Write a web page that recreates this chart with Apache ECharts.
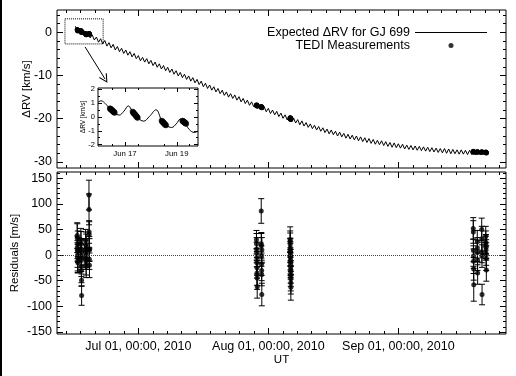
<!DOCTYPE html>
<html>
<head>
<meta charset="utf-8">
<script src="https://cdn.jsdelivr.net/npm/echarts@6.0.0/dist/echarts.min.js"></script>
<style>
  html, body { margin: 0; padding: 0; background: #fff; }
  #main { width: 516px; height: 376px; }
</style>
</head>
<body>
<div id="main"></div>
<script>
// days are counted from Jul 01 2010, 00:00 UT
var xTickDays = [0, 31, 62];
var xTickLabels = ['Jul 01, 00:00, 2010', 'Aug 01, 00:00, 2010', 'Sep 01, 00:00, 2010'];
var rvTicks = [0, -10, -20, -30];
var residTicks = [150, 100, 50, 0, -50, -100, -150];
var insetTickDays = [-14, -12];
var insetTickLabels = ['Jun 17', 'Jun 19'];
var insetRvTicks = [2, 1, 0, -1, -2];

// expected dRV (km/s), one value every half day starting at modelStart
var modelStart = -15;
var modelStep = 0.5;
var modelRv = [
  1.4, 0.1, 0.9, -0.4, 0.4, -0.9, -0.1, -1.3, -0.6, -1.8, -1.1, -2.3, -1.5, -2.7, -1.9, -3.2,
  -2.4, -3.6, -2.8, -4.1, -3.3, -4.5, -3.7, -4.9, -4.1, -5.3, -4.5, -5.7, -4.9, -6.1,
  -5.4, -6.6, -5.8, -6.9, -6.1, -7.3, -6.5, -7.7, -6.9, -8.1, -7.3, -8.5, -7.7, -8.9,
  -8.1, -9.3, -8.5, -9.7, -8.9, -10.1, -9.3, -10.5, -9.7, -10.9, -10.1, -11.3, -10.5, -11.7,
  -10.9, -12.1, -11.3, -12.6, -11.8, -13.0, -12.2, -13.4, -12.6, -13.8, -13.0, -14.2,
  -13.4, -14.6, -13.8, -15.0, -14.2, -15.3, -14.5, -15.7, -14.9, -16.1, -15.3, -16.5,
  -15.7, -16.9, -16.1, -17.2, -16.4, -17.6, -16.8, -18.0, -17.2, -18.4, -17.6, -18.8,
  -18.0, -19.1, -18.3, -19.5, -18.7, -19.9, -19.1, -20.3, -19.5, -20.6, -19.8, -21.0,
  -20.2, -21.4, -20.5, -21.7, -20.9, -22.0, -21.2, -22.3, -21.5, -22.6, -21.8, -22.9,
  -22.1, -23.2, -22.4, -23.5, -22.6, -23.7, -22.9, -24.0, -23.1, -24.2, -23.4, -24.5,
  -23.6, -24.7, -23.8, -24.9, -24.0, -25.1, -24.2, -25.3, -24.4, -25.5, -24.6, -25.7,
  -24.8, -25.9, -25.0, -26.0, -25.1, -26.2, -25.3, -26.4, -25.5, -26.6, -25.6, -26.7,
  -25.8, -26.8, -25.9, -27.0, -26.1, -27.1, -26.2, -27.2, -26.3, -27.3, -26.4, -27.4,
  -26.5, -27.5, -26.6, -27.6, -26.7, -27.7, -26.8, -27.8, -26.9, -27.9, -26.9, -28.0,
  -27.0, -28.1, -27.1, -28.1, -27.2, -28.2, -27.2, -28.2, -27.3, -28.3, -27.3, -28.3,
  -27.4, -28.4, -27.4, -28.4, -27.4, -28.4, -27.5
];

// zoomed curve for the inset (day, km/s)
var insetDay = [-15.04, -14.92, -14.75, -14.58, -14.40, -14.22, -14.04, -13.87, -13.70, -13.50, -13.28,
  -13.05, -12.80, -12.58, -12.40, -12.20, -12.02, -11.86, -11.70, -11.52, -11.32, -11.18];
var insetRv = [1.07, 1.17, 0.95, 0.62, 0.30, 0.14, 0.42, 0.80, 0.38, -0.06, -0.30,
  0.05, 0.52, -0.25, -0.60, -0.76, -0.50, -0.16, -0.40, -0.90, -1.12, -1.02];

// TEDI measurements
var obsDay = [
  -14.58, -14.56, -14.54, -14.52, -14.50, -14.48, -14.46, -14.44, -14.42, -14.40,
  -13.70, -13.68, -13.66, -13.64, -13.61, -13.59, -13.57, -13.55, -13.53, -13.51,
  -12.58, -12.56, -12.54, -12.52, -12.50, -12.48, -12.46, -12.44, -12.42,
  -11.78, -11.76, -11.74, -11.72, -11.70, -11.68, -11.66, -11.64,
  28.16, 28.18, 28.20, 28.22, 28.24, 28.26, 28.28, 28.30, 28.32, 28.34,
  29.30, 29.32, 29.34, 29.36, 29.38, 29.40, 29.42, 29.44, 29.46,
  36.20, 36.21, 36.22, 36.23, 36.24, 36.25, 36.26, 36.27, 36.28, 36.29, 36.30, 36.31, 36.32, 36.33, 36.34, 36.35, 36.36, 36.37,
  79.86, 79.88, 79.90, 79.92, 79.94, 79.96, 79.98,
  80.82, 80.84, 80.86, 80.88, 80.90,
  81.88, 81.90, 81.92, 81.94, 81.96,
  82.84, 82.86, 82.88, 82.90, 82.92, 82.94, 82.96, 82.98
];
var obsRv = [
  0.62, 0.59, 0.55, 0.52, 0.48, 0.45, 0.41, 0.38, 0.34, 0.30,
  0.38, 0.33, 0.28, 0.23, 0.18, 0.13, 0.08, 0.03, -0.02, -0.06,
  -0.28, -0.32, -0.36, -0.40, -0.44, -0.48, -0.52, -0.56, -0.60,
  -0.27, -0.30, -0.33, -0.36, -0.39, -0.42, -0.45, -0.48,
  -16.80, -16.83, -16.86, -16.89, -16.92, -16.95, -16.98, -17.01, -17.04, -17.07,
  -17.20, -17.23, -17.26, -17.29, -17.32, -17.35, -17.38, -17.41, -17.44,
  -19.80, -19.82, -19.84, -19.86, -19.88, -19.90, -19.92, -19.94, -19.96, -19.98, -20.00, -20.02, -20.04, -20.06, -20.08, -20.10, -20.12, -20.14,
  -27.55, -27.58, -27.61, -27.64, -27.67, -27.70, -27.73,
  -27.62, -27.65, -27.68, -27.71, -27.74,
  -27.66, -27.69, -27.72, -27.75, -27.78,
  -27.70, -27.73, -27.76, -27.79, -27.82, -27.85, -27.88, -27.91
];
var obsResid = [
  38, 33, 15, 8, 0, -5, -12, 22, -15, 10,
  30, 22, 12, -3, -10, -22, -30, -49, -79, 5,
  28, 20, 12, 5, -2, -8, -15, -22, 15,
  117, 89, 45, 40, 12, -8, -20, 10,
  30, 22, 12, 5, -5, -15, -25, -35, -45, -62,
  86, 22, 18, -2, -18, -30, -38, -77, 10,
  30, 27, 21, 14, 9, 6, 1, -4, -9, -13, -18, -24, -29, -33, -41, -46, -54, -63,
  52, 45, 9, -2, -12, -27, -58,
  26, 14, 5, -10, -35,
  50, 32, 5, -2, -77,
  36, 25, 20, 15, 10, 2, -6, -29
];
var obsErr = [
  25, 28, 22, 20, 24, 26, 22, 25, 20, 24,
  22, 24, 20, 25, 22, 20, 24, 12, 19, 26,
  22, 25, 20, 24, 22, 20, 24, 22, 26,
  29, 30, 22, 25, 24, 20, 24, 22,
  18, 20, 22, 20, 18, 22, 20, 24, 22, 22,
  24, 22, 24, 20, 22, 20, 22, 22, 24,
  25, 20, 22, 18, 24, 20, 22, 18, 20, 24, 22, 20, 18, 22, 20, 24, 22, 25,
  21, 22, 22, 20, 24, 22, 32,
  22, 20, 24, 20, 22,
  22, 24, 20, 22, 20,
  20, 22, 20, 22, 20, 22, 24, 22
];

var FONT = 'Liberation Sans, Arial, sans-serif';
var xRange = [-19.4, 87.67];
var rvRange = [-31.4, 5.15];
var residRange = [-154, 162];
var insetXRange = [-15.04, -11.18];
var insetYRange = [-2.1, 2.1];

function minorTicks(lo, hi, step, every) {
  var out = [];
  for (var k = Math.ceil(lo / step); k * step <= hi; k++) {
    if (k % every !== 0) out.push(+(k * step).toFixed(4));
  }
  return out;
}

// four axes per side pair: major + minor ticks, mirrored on the opposite edge
function boxAxes(dim, gridIndex, range, major, minor, lenMajor, lenMinor, primary) {
  var sides = dim === 'x' ? ['bottom', 'top'] : ['left', 'right'];
  var out = [];
  sides.forEach(function (side, s) {
    [[major, lenMajor], [minor, lenMinor]].forEach(function (t, k) {
      var ax = {
        type: 'value', gridIndex: gridIndex, position: side,
        min: range[0], max: range[1],
        axisLine: { show: false, onZero: false },
        splitLine: { show: false },
        axisTick: { show: true, inside: true, length: t[1], customValues: t[0],
          lineStyle: { color: '#000', width: 1 } },
        axisLabel: { show: false }
      };
      if (s === 0 && k === 0 && primary) Object.assign(ax, primary);
      out.push(ax);
    });
  });
  return out;
}

var modelData = modelRv.map(function (v, i) { return [modelStart + i * modelStep, v]; });
var insetData = insetDay.map(function (d, i) { return [d, insetRv[i]]; });
var obsData = obsDay.map(function (d, i) { return [d, obsRv[i]]; });
var residData = obsDay.map(function (d, i) { return [d, obsResid[i]]; });
var errData = obsDay.map(function (d, i) { return [d, obsResid[i] - obsErr[i], obsResid[i] + obsErr[i]]; });

var xMinorMain = minorTicks(xRange[0], xRange[1], 31 / 9, 9);
var labelStyle = { color: '#000', fontFamily: FONT, fontSize: 12.5 };

var xAxes = []
  .concat(boxAxes('x', 0, xRange, xTickDays, xMinorMain, 6, 3))
  .concat(boxAxes('x', 1, xRange, xTickDays, xMinorMain, 6, 3, {
    axisLabel: Object.assign({ show: true, customValues: xTickDays, margin: 6,
      formatter: function (v) { var i = xTickDays.indexOf(v); return i < 0 ? '' : xTickLabels[i]; } }, labelStyle),
    name: 'UT', nameLocation: 'middle', nameGap: 20, nameMoveOverlap: false,
    nameTextStyle: { color: '#000', fontFamily: FONT, fontSize: 11.5 }
  }))
  .concat(boxAxes('x', 2, insetXRange, insetTickDays, minorTicks(insetXRange[0], insetXRange[1], 0.5, 2), 4, 2, {
    axisLabel: { show: true, customValues: insetTickDays, margin: 4, color: '#000', fontFamily: FONT, fontSize: 7.8,
      formatter: function (v) { var i = insetTickDays.indexOf(v); return i < 0 ? '' : insetTickLabels[i]; } }
  }));

var yAxes = []
  .concat(boxAxes('y', 0, rvRange, rvTicks, minorTicks(rvRange[0], rvRange[1], 2, 5), 6, 3, {
    axisLabel: Object.assign({ show: true, customValues: rvTicks, margin: 5 }, labelStyle),
    name: 'ΔRV [km/s]', nameLocation: 'middle', nameGap: 24, nameMoveOverlap: false,
    nameTextStyle: { color: '#000', fontFamily: FONT, fontSize: 11.5 }
  }))
  .concat(boxAxes('y', 1, residRange, residTicks, minorTicks(residRange[0], residRange[1], 10, 5), 6, 3, {
    axisLabel: Object.assign({ show: true, customValues: residTicks, margin: 5 }, labelStyle),
    name: 'Residuals [m/s]', nameLocation: 'middle', nameGap: 36, nameMoveOverlap: false,
    nameTextStyle: { color: '#000', fontFamily: FONT, fontSize: 11.5 }
  }))
  .concat(boxAxes('y', 2, insetYRange, insetRvTicks, minorTicks(insetYRange[0], insetYRange[1], 0.5, 2), 4, 2, {
    axisLabel: { show: true, customValues: insetRvTicks, margin: 3, color: '#000', fontFamily: FONT, fontSize: 7.5 },
    name: 'ΔRV [km/s]', nameLocation: 'middle', nameGap: 11, nameMoveOverlap: false,
    nameTextStyle: { color: '#000', fontFamily: FONT, fontSize: 6.5 }
  }));

var gridBox = { show: true, borderColor: '#000', borderWidth: 1, backgroundColor: 'transparent', outerBoundsMode: 'none' };

var chart = echarts.init(document.getElementById('main'), null, { renderer: 'canvas' });
chart.setOption({
  animation: false,
  backgroundColor: '#fff',
  textStyle: { fontFamily: FONT },
  graphic: [{ type: 'rect', left: 0, top: 0, shape: { width: 2, height: 376 }, style: { fill: '#000' } }],
  grid: [
    Object.assign({ left: 57, top: 10, width: 449, height: 158 }, gridBox),
    Object.assign({ left: 57, top: 172, width: 449, height: 162 }, gridBox),
    Object.assign({ left: 98, top: 88, width: 100, height: 58 }, gridBox, { backgroundColor: '#fff' })
  ],
  legend: {
    orient: 'vertical', right: 29, top: 26, align: 'right', padding: 0,
    itemWidth: 72, itemHeight: 5, itemGap: 0, selectedMode: false,
    textStyle: { color: '#000', fontFamily: FONT, fontSize: 12.5, lineHeight: 12 },
    data: [
      { name: 'Expected ΔRV for GJ 699', icon: 'path://M0,0 L72,0 L72,1 L0,1 Z' },
      { name: 'TEDI Measurements', icon: 'circle' }
    ]
  },
  xAxis: xAxes,
  yAxis: yAxes,
  series: [
    {
      name: 'Expected ΔRV for GJ 699', type: 'line', xAxisIndex: 0, yAxisIndex: 0,
      data: modelData, symbol: 'none', silent: true,
      lineStyle: { color: '#000', width: 1 }, itemStyle: { color: '#000' },
      markArea: {
        silent: true,
        itemStyle: { color: 'rgba(0,0,0,0)', borderColor: '#000', borderWidth: 1, borderType: 'dotted' },
        data: [[{ coord: [-17.5, 3.1] }, { coord: [-8.4, -2.7] }]]
      },
      markLine: {
        silent: true,
        symbol: ['none', 'path://M5,0 L10,9 L9,9.7 L5,2.3 L1,9.7 L0,9 Z'],
        symbolSize: [9, 9],
        label: { show: false },
        lineStyle: { color: '#000', width: 1, type: 'solid' },
        data: [[{ coord: [-12.7, -3.4] }, { coord: [-7.95, -10.8] }]]
      }
    },
    {
      name: 'TEDI Measurements', type: 'scatter', xAxisIndex: 0, yAxisIndex: 0,
      data: obsData, symbol: 'circle', symbolSize: 5, silent: true,
      itemStyle: { color: '#000' }
    },
    {
      type: 'custom', xAxisIndex: 4, yAxisIndex: 4, data: errData, silent: true,
      encode: { x: 0, y: [1, 2] },
      renderItem: function (params, api) {
        var lo = api.coord([api.value(0), api.value(1)]);
        var hi = api.coord([api.value(0), api.value(2)]);
        var st = { stroke: '#000', lineWidth: 1 };
        return {
          type: 'group', children: [
            { type: 'line', shape: { x1: lo[0], y1: lo[1], x2: hi[0], y2: hi[1] }, style: st },
            { type: 'line', shape: { x1: lo[0] - 3, y1: lo[1], x2: lo[0] + 3, y2: lo[1] }, style: st },
            { type: 'line', shape: { x1: hi[0] - 3, y1: hi[1], x2: hi[0] + 3, y2: hi[1] }, style: st }
          ]
        };
      }
    },
    {
      type: 'scatter', xAxisIndex: 4, yAxisIndex: 4, data: residData,
      symbol: 'circle', symbolSize: 5, silent: true, itemStyle: { color: '#000' },
      markLine: {
        silent: true, symbol: 'none', label: { show: false },
        lineStyle: { color: '#444', width: 1, type: 'dotted' },
        data: [{ yAxis: 0 }]
      }
    },
    {
      type: 'line', xAxisIndex: 8, yAxisIndex: 8, data: insetData, smooth: 0.4,
      symbol: 'none', silent: true, lineStyle: { color: '#000', width: 1 }
    },
    {
      type: 'scatter', xAxisIndex: 8, yAxisIndex: 8, data: obsData.slice(0, 37),
      symbol: 'circle', symbolSize: 6, silent: true, itemStyle: { color: '#000' }
    }
  ]
});
</script>
</body>
</html>
